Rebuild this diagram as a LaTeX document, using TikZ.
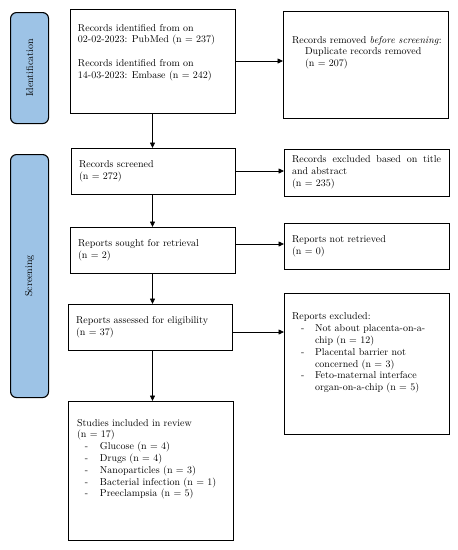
\documentclass[tikz,border=0pt]{standalone}
\usetikzlibrary{arrows.meta}
\definecolor{pillblue}{HTML}{9DC3E6}
\newcommand{\topbox}[5]{\parbox[c][#2][t]{#1}{\vspace*{#3}\raggedright\leftskip=#4\rightskip=0pt plus 2em #5\par}}
\begin{document}
\begin{tikzpicture}[x=1pt,y=-1pt,
  every node/.style={font=\fontsize{10}{11.8}\selectfont},
  tbox/.style={draw, line width=0.9pt, anchor=north west, inner sep=0pt, outer sep=0pt},
  cbox/.style={draw, line width=0.9pt, anchor=north west, inner xsep=8pt, inner ysep=0pt, outer sep=0pt, align=left},
  pill/.style={draw, line width=1.1pt, fill=pillblue, rounded corners=6pt, anchor=north west, minimum width=38pt, inner sep=0pt},
  arr/.style={line width=0.8pt, -{Triangle[length=5.5pt,width=5pt]}}]
\useasboundingbox (0,0) rectangle (458,550);

% phase pills
\node[pill, minimum height=111pt] (pid) at (10,12) {};
\node[rotate=90] (tid) at (pid.center) {Identification};
\node[pill, minimum height=243pt] (psc) at (10,154) {};
\node[rotate=90] (tsc) at (psc.center) {Screening};

% identification
\node[tbox] (b1) at (70,9) {\topbox{165pt}{104pt}{15pt}{8pt}{Records identified from on\\02-02-2023: PubMed (n = 237)\\[12pt]Records identified from on\\14-03-2023: Embase (n = 242)}};
\node[tbox] (rem) at (283,11) {\topbox{165pt}{107pt}{25pt}{9pt}{Records removed \textit{before screening}:\\\hspace*{13pt}Duplicate records removed\\\hspace*{13pt}(n = 207)}};

% screening
\node[cbox, text width=148pt, minimum height=46pt] (screened) at (71,148) {Records screened\\(n = 272)};
\node[cbox, text width=149pt, minimum height=47pt, align=justify] (excl1) at (284,149) {Records excluded based on title\linebreak and abstract\\(n = 235)};
\node[cbox, text width=149pt, minimum height=46pt] (sought) at (70,227) {Reports sought for retrieval\\(n = 2)};
\node[cbox, text width=149pt, minimum height=46pt] (notret) at (284,223) {Reports not retrieved\\(n = 0)};
\node[cbox, text width=148pt, minimum height=46pt] (assessed) at (68,304) {Reports assessed for eligibility\\(n = 37)};
\node[tbox] (excl2) at (284,293) {\topbox{165pt}{141pt}{20pt}{8pt}{Reports excluded:\\
\hspace*{9pt}\makebox[14pt][l]{-}Not about placenta-on-a-\\\hspace*{23pt}chip (n = 12)\\
\hspace*{9pt}\makebox[14pt][l]{-}Placental barrier not\\\hspace*{23pt}concerned (n = 3)\\
\hspace*{9pt}\makebox[14pt][l]{-}Feto-maternal interface\\\hspace*{23pt}organ-on-a-chip (n = 5)}};
\node[tbox] (studies) at (68,401) {\topbox{165pt}{139pt}{18pt}{9pt}{Studies included in review\\(n = 17)\\
\hspace*{8pt}\makebox[15pt][l]{-}Glucose (n = 4)\\
\hspace*{8pt}\makebox[15pt][l]{-}Drugs (n = 4)\\
\hspace*{8pt}\makebox[15pt][l]{-}Nanoparticles (n = 3)\\
\hspace*{8pt}\makebox[15pt][l]{-}Bacterial infection (n = 1)\\
\hspace*{8pt}\makebox[15pt][l]{-}Preeclampsia (n = 5)}};

% connectors
\draw[arr] (b1.east) -- (b1.east -| rem.west);
\draw[arr] (b1.south) -- (b1.south |- screened.north);
\draw[arr] (screened.east) -- (screened.east -| excl1.west);
\draw[arr] (b1.south |- screened.south) -- (b1.south |- sought.north);
\draw[arr] ([yshift=6pt]sought.east) -- ([yshift=6pt]sought.east -| notret.west);
\draw[arr] (b1.south |- sought.south) -- (b1.south |- assessed.north);
\draw[arr] ([yshift=-5pt]assessed.east) -- ([yshift=-5pt]assessed.east -| excl2.west);
\draw[arr] (b1.south |- assessed.south) -- (b1.south |- studies.north);
\end{tikzpicture}
\end{document}
